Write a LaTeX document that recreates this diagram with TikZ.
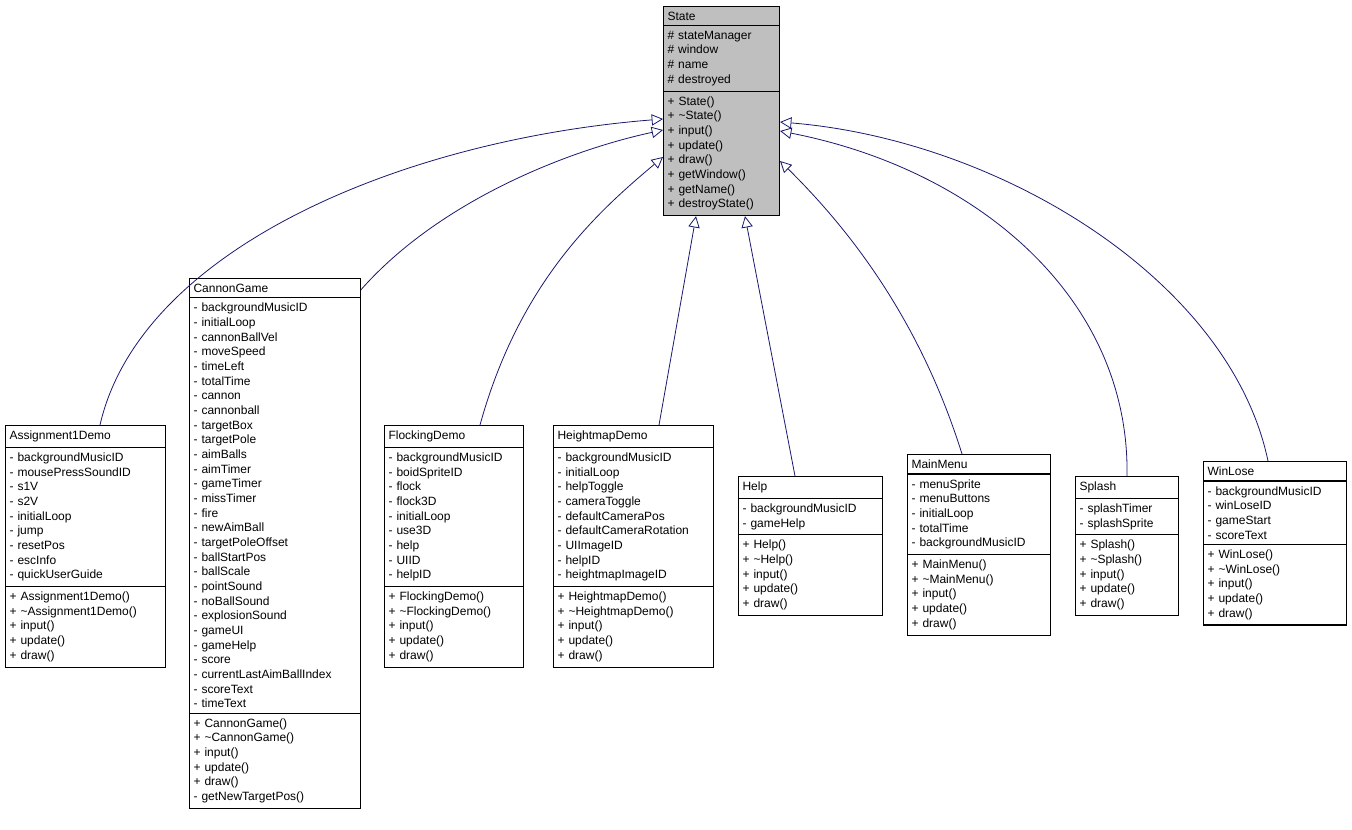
\documentclass[tikz,border=0pt]{standalone}
\usepackage{fontspec}
\setmainfont{Liberation Sans}
\usetikzlibrary{shapes.multipart, arrows.meta}
\definecolor{edgeblue}{HTML}{191970}
\definecolor{basegray}{HTML}{BFBFBF}

\tikzset{
  cls/.style={rectangle split, rectangle split parts=3, draw, thick, anchor=north west,
    rectangle split part align={center,left,left}, inner xsep=3pt, inner ysep=3.6pt,
    font=\fontsize{9}{11}\selectfont, align=left},
  inherit/.style={draw=edgeblue, semithick, -{Triangle[open, length=8.5pt, width=8.5pt, fill=white]}}
}

\begin{document}
\begin{tikzpicture}[x=0.75pt, y=-0.75pt]
\useasboundingbox (0,0) rectangle (1352,829);

  \node (base) [cls, fill=basegray, text width=81pt] at (663,6)
    {State
     \nodepart{second}\# stateManager\\\# window\\\# name\\\# destroyed
     \nodepart{third}+ State()\\+ \textasciitilde State()\\+ input()\\+ update()\\+ draw()\\+ getWindow()\\+ getName()\\+ destroyState()};

  \node (asg) [cls, text width=114pt] at (5,425)
    {Assignment1Demo
     \nodepart{second}- backgroundMusicID\\- mousePressSoundID\\- s1V\\- s2V\\- initialLoop\\- jump\\- resetPos\\- escInfo\\- quickUserGuide
     \nodepart{third}+ Assignment1Demo()\\+ \textasciitilde Assignment1Demo()\\+ input()\\+ update()\\+ draw()};

  \node (cannon) [cls, text width=122pt] at (189,278)
    {CannonGame
     \nodepart{second}- backgroundMusicID\\- initialLoop\\- cannonBallVel\\- moveSpeed\\- timeLeft\\- totalTime\\- cannon\\- cannonball\\- targetBox\\- targetPole\\- aimBalls\\- aimTimer\\- gameTimer\\- missTimer\\- fire\\- newAimBall\\- targetPoleOffset\\- ballStartPos\\- ballScale\\- pointSound\\- noBallSound\\- explosionSound\\- gameUI\\- gameHelp\\- score\\- currentLastAimBallIndex\\- scoreText\\- timeText
     \nodepart{third}+ CannonGame()\\+ \textasciitilde CannonGame()\\+ input()\\+ update()\\+ draw()\\- getNewTargetPos()};

  \node (flock) [cls, text width=98pt] at (384,425)
    {FlockingDemo
     \nodepart{second}- backgroundMusicID\\- boidSpriteID\\- flock\\- flock3D\\- initialLoop\\- use3D\\- help\\- UIID\\- helpID
     \nodepart{third}+ FlockingDemo()\\+ \textasciitilde FlockingDemo()\\+ input()\\+ update()\\+ draw()};

  \node (hmap) [cls, text width=114pt] at (553,425)
    {HeightmapDemo
     \nodepart{second}- backgroundMusicID\\- initialLoop\\- helpToggle\\- cameraToggle\\- defaultCameraPos\\- defaultCameraRotation\\- UIImageID\\- helpID\\- heightmapImageID
     \nodepart{third}+ HeightmapDemo()\\+ \textasciitilde HeightmapDemo()\\+ input()\\+ update()\\+ draw()};

  \node (help) [cls, text width=102pt] at (738,476)
    {Help
     \nodepart{second}- backgroundMusicID\\- gameHelp
     \nodepart{third}+ Help()\\+ \textasciitilde Help()\\+ input()\\+ update()\\+ draw()};

  \node (menu) [cls, text width=101pt] at (907,454)
    {MainMenu
     \nodepart{second}- menuSprite\\- menuButtons\\- initialLoop\\- totalTime\\- backgroundMusicID
     \nodepart{third}+ MainMenu()\\+ \textasciitilde MainMenu()\\+ input()\\+ update()\\+ draw()};

  \node (splash) [cls, text width=71pt] at (1075,476)
    {Splash
     \nodepart{second}- splashTimer\\- splashSprite
     \nodepart{third}+ Splash()\\+ \textasciitilde Splash()\\+ input()\\+ update()\\+ draw()};

  \node (winlose) [cls, text width=101pt] at (1203,461)
    {WinLose
     \nodepart{second}- backgroundMusicID\\- winLoseID\\- gameStart\\- scoreText
     \nodepart{third}+ WinLose()\\+ \textasciitilde WinLose()\\+ input()\\+ update()\\+ draw()};

  % generalisations
  \draw [inherit] (asg.north -| 100,0) .. controls (140,250) and (400,140) .. (base.west |- 0,119);
  \draw [inherit] (cannon.east |- 0,290) .. controls (440,200) and (570,150) .. (base.west |- 0,130);
  \draw [inherit] (flock.north -| 480,0) .. controls (520,280) and (600,210) .. (base.west |- 0,157);
  \draw [inherit] (hmap.north -| 659,0) -- (base.south -| 696,0);
  \draw [inherit] (help.north -| 795,0) -- (base.south -| 745,0);
  \draw [inherit] (menu.north -| 962,0) .. controls (920,320) and (850,230) .. (base.east |- 0,161);
  \draw [inherit] (splash.north -| 1127,0) .. controls (1130,300) and (980,170) .. (base.east |- 0,131);
  \draw [inherit] (winlose.north -| 1268,0) .. controls (1230,280) and (1000,140) .. (base.east |- 0,122);

\end{tikzpicture}
\end{document}
